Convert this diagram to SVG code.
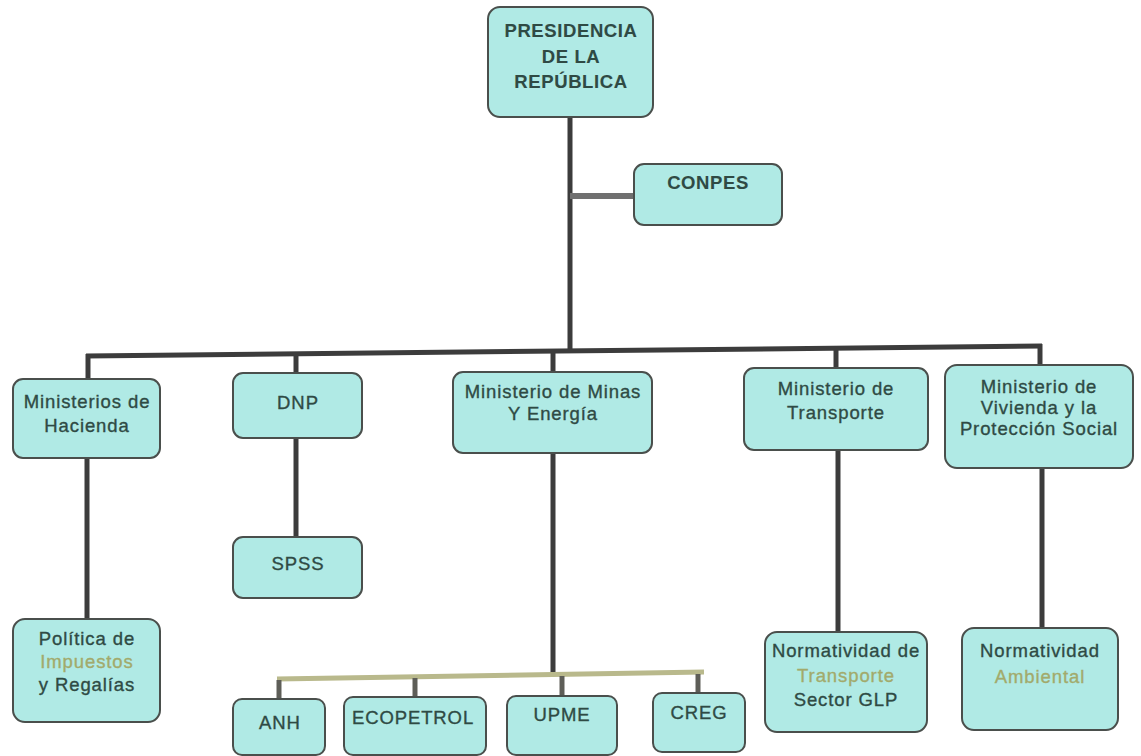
<svg xmlns="http://www.w3.org/2000/svg" width="1141" height="756" viewBox="0 0 1141 756">
<style>
.box{fill:#b0eae5;stroke:#4a4f4c;stroke-width:2}
.t{font-family:"Liberation Sans",Arial,sans-serif;font-size:18.5px;fill:#2f4a44;stroke:#2f4a44;stroke-width:0.35px;text-anchor:middle;letter-spacing:0.9px}
.b{font-weight:bold;letter-spacing:0.6px;stroke-width:0.1px}
.lt{fill:#a2aa6c;stroke:#a2aa6c}
.c{stroke:#3c3c3c;stroke-width:5;fill:none}
.cg{stroke:#707070;stroke-width:6;fill:none}
.cs{stroke:#5e5e58;stroke-width:5;fill:none}
.sb{stroke:#b9b98c;stroke-width:5;fill:none}
</style>
<rect width="1141" height="756" fill="#ffffff"/>
<g id="connectors">
<line class="c" x1="570" y1="117" x2="570" y2="353"/>
<line class="cg" x1="570" y1="196" x2="634" y2="196"/>
<line class="c" x1="86" y1="356" x2="1042" y2="346"/>
<line class="c" x1="88" y1="354" x2="88" y2="379"/>
<line class="c" x1="296" y1="352" x2="296" y2="373"/>
<line class="c" x1="553" y1="349" x2="553" y2="372"/>
<line class="c" x1="836" y1="346" x2="836" y2="368"/>
<line class="c" x1="1040" y1="344" x2="1040" y2="365"/>
<line class="c" x1="87" y1="458" x2="87" y2="619"/>
<line class="c" x1="296" y1="438" x2="296" y2="537"/>
<line class="c" x1="553" y1="453" x2="553" y2="676"/>
<line class="c" x1="838" y1="450" x2="838" y2="632"/>
<line class="c" x1="1042" y1="468" x2="1042" y2="628"/>
<line class="sb" x1="277" y1="679" x2="704" y2="672"/>
<line class="cs" x1="279" y1="680" x2="279" y2="699"/>
<line class="cs" x1="415" y1="678" x2="415" y2="697"/>
<line class="cs" x1="562" y1="676" x2="562" y2="696"/>
<line class="cs" x1="698" y1="674" x2="698" y2="693"/>
</g>
<g id="presidencia">
<rect class="box" x="488" y="7" width="165" height="110" rx="12"/>
<text class="t b" x="571" y="37">PRESIDENCIA</text>
<text class="t b" x="571" y="63">DE LA</text>
<text class="t b" x="571" y="88">REPÚBLICA</text>
</g>
<g id="conpes">
<rect class="box" x="634" y="164" width="148" height="61" rx="10"/>
<text class="t b" x="708" y="189">CONPES</text>
</g>
<g id="hacienda">
<rect class="box" x="13" y="379" width="147" height="79" rx="10"/>
<text class="t" x="87" y="408">Ministerios de</text>
<text class="t" x="87" y="432">Hacienda</text>
</g>
<g id="dnp">
<rect class="box" x="233" y="373" width="129" height="65" rx="10"/>
<text class="t" x="298" y="409">DNP</text>
</g>
<g id="minas">
<rect class="box" x="453" y="372" width="199" height="81" rx="10"/>
<text class="t" x="553" y="398">Ministerio de Minas</text>
<text class="t" x="553" y="420">Y Energía</text>
</g>
<g id="transporte">
<rect class="box" x="744" y="368" width="184" height="82" rx="10"/>
<text class="t" x="836" y="395">Ministerio de</text>
<text class="t" x="836" y="419">Transporte</text>
</g>
<g id="vivienda">
<rect class="box" x="945" y="365" width="188" height="103" rx="12"/>
<text class="t" x="1039" y="393">Ministerio de</text>
<text class="t" x="1039" y="414">Vivienda y la</text>
<text class="t" x="1039" y="435">Protección Social</text>
</g>
<g id="spss">
<rect class="box" x="233" y="537" width="129" height="61" rx="10"/>
<text class="t" x="298" y="570">SPSS</text>
</g>
<g id="politica">
<rect class="box" x="13" y="619" width="147" height="103" rx="12"/>
<text class="t" x="87" y="645">Política de</text>
<text class="t lt" x="87" y="668">Impuestos</text>
<text class="t" x="87" y="691">y Regalías</text>
</g>
<g id="anh">
<rect class="box" x="233" y="699" width="92" height="56" rx="9"/>
<text class="t" x="280" y="729">ANH</text>
</g>
<g id="ecopetrol">
<rect class="box" x="344" y="697" width="142" height="58" rx="9"/>
<text class="t" x="413" y="724">ECOPETROL</text>
</g>
<g id="upme">
<rect class="box" x="507" y="696" width="110" height="59" rx="9"/>
<text class="t" x="562" y="721">UPME</text>
</g>
<g id="creg">
<rect class="box" x="653" y="693" width="92" height="59" rx="9"/>
<text class="t" x="699" y="719">CREG</text>
</g>
<g id="norm-transporte">
<rect class="box" x="765" y="632" width="162" height="100" rx="12"/>
<text class="t" x="846" y="657">Normatividad de</text>
<text class="t lt" x="846" y="682">Transporte</text>
<text class="t" x="846" y="706">Sector GLP</text>
</g>
<g id="norm-ambiental">
<rect class="box" x="962" y="628" width="156" height="102" rx="12"/>
<text class="t" x="1040" y="657">Normatividad</text>
<text class="t lt" x="1040" y="683">Ambiental</text>
</g>
</svg>
